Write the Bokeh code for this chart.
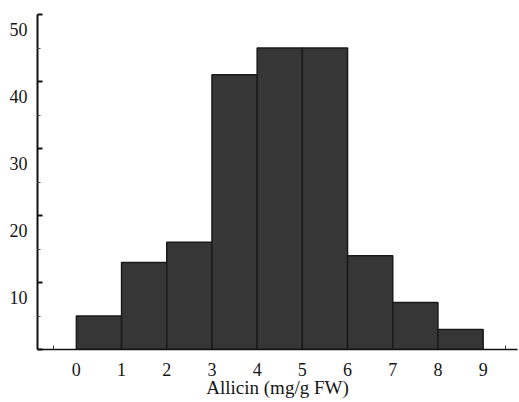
from bokeh.plotting import figure
from bokeh.models import FixedTicker, LinearAxis, Range1d
from bokeh.embed import file_html
from bokeh.resources import INLINE

# ---- data ----
bin_left = [0, 1, 2, 3, 4, 5, 6, 7, 8]
bin_right = [1, 2, 3, 4, 5, 6, 7, 8, 9]
counts = [5, 13, 16, 41, 45, 45, 14, 7, 3]
x_ticks = [0, 1, 2, 3, 4, 5, 6, 7, 8, 9]
x_minor = [-0.5, 9.5]
y_ticks = [10, 20, 30, 40, 50]
y_tick_labels = ["10", "20", "30", "40", "50"]
y_minor = [5, 15, 25, 35, 45]
x_title = "Allicin (mg/g FW)"

FONT = "Liberation Serif"
TXT = "#151515"
X_START, X_END = -0.86, 9.76
Y_START, Y_END = 0, 50
FRAME_H = 335  # px, used only to convert the label drop (px) into data units
LABEL_DROP_PX = 15
label_shift = LABEL_DROP_PX * (Y_END - Y_START) / FRAME_H

p = figure(width=519, height=402, output_backend="svg", toolbar_location=None,
           x_range=Range1d(X_START, X_END), y_range=Range1d(Y_START, Y_END),
           min_border_left=37, min_border_right=2, min_border_top=14,
           min_border_bottom=53)
p.outline_line_color = None
p.grid.visible = False
p.background_fill_color = "white"

p.quad(left=bin_left, right=bin_right, bottom=0, top=counts,
       fill_color="#363636", line_color="#1a1a1a", line_width=1.5)

# y axis (tick marks only, pointing inward)
ya = p.yaxis[0]
ya.ticker = FixedTicker(ticks=[0] + y_ticks, minor_ticks=y_minor)
ya.major_label_overrides = {v: "" for v in [0] + y_ticks}
ya.major_label_standoff = 0
ya.major_tick_in = 5
ya.major_tick_out = 0
ya.minor_tick_in = 3
ya.minor_tick_out = 0
ya.axis_line_width = 2
ya.axis_line_color = "#111111"
ya.major_tick_line_width = 2
ya.major_tick_line_color = "#111111"
ya.minor_tick_line_color = "#555555"

# y tick labels (they sit a little below their tick marks in the reference)
shifted = [round(v - label_shift, 3) for v in y_ticks]
ylab = LinearAxis(ticker=FixedTicker(ticks=shifted, minor_ticks=[]),
                  major_label_overrides={s: t for s, t in zip(shifted, y_tick_labels)},
                  axis_line_color=None, major_tick_line_color=None,
                  minor_tick_line_color=None, major_tick_in=0, major_tick_out=0,
                  major_label_standoff=10, major_label_text_font=FONT,
                  major_label_text_font_size="18px", major_label_text_color=TXT)
p.add_layout(ylab, "left")

# x axis
xa = p.xaxis[0]
xa.ticker = FixedTicker(ticks=x_ticks, minor_ticks=x_minor)
xa.major_tick_line_color = None
xa.major_tick_in = 0
xa.major_tick_out = 0
xa.minor_tick_in = 4
xa.minor_tick_out = 0
xa.minor_tick_line_color = "#333333"
xa.axis_line_width = 1.5
xa.axis_line_color = "#111111"
xa.major_label_standoff = 13
xa.major_label_text_font = FONT
xa.major_label_text_font_size = "18px"
xa.major_label_text_color = TXT
xa.axis_label = x_title
xa.axis_label_standoff = -2
xa.axis_label_text_font = FONT
xa.axis_label_text_font_style = "normal"
xa.axis_label_text_font_size = "19px"
xa.axis_label_text_color = TXT

open("out.html", "w").write(file_html(p, INLINE))
